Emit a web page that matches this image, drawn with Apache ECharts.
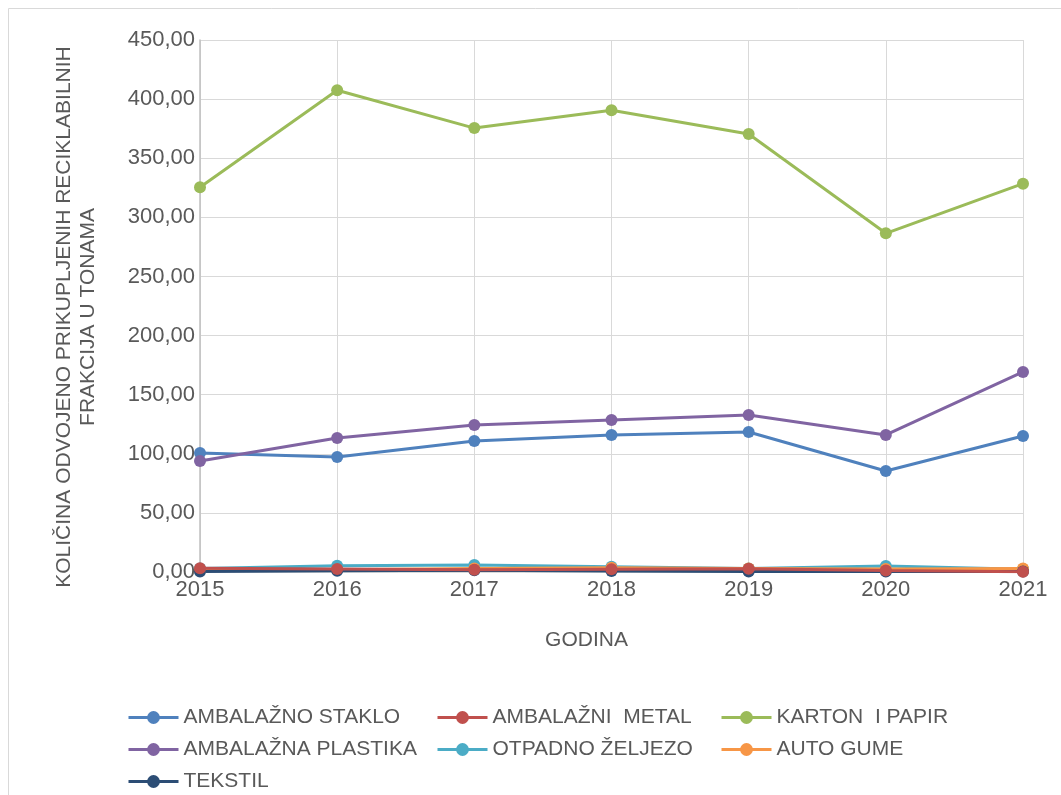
<!DOCTYPE html>
<html>
<head>
<meta charset="utf-8">
<script src="https://cdn.jsdelivr.net/npm/echarts@6/dist/echarts.min.js"></script>
<style>
  html, body { margin: 0; padding: 0; background: #fff; }
  #chart { width: 1061px; height: 795px; }
</style>
</head>
<body>
<div id="chart"></div>
<script>
// godine i kolicine (t)
var years = ['2015', '2016', '2017', '2018', '2019', '2020', '2021'];
var yTicks = [0, 50, 100, 150, 200, 250, 300, 350, 400, 450];

var staklo   = [100.7, 97.3, 110.8, 115.9, 118.4, 85.4, 115.0];
var metal    = [3.2, 2.6, 2.0, 2.4, 2.8, 1.2, 0.3];
var karton   = [325.5, 407.5, 375.5, 390.5, 370.5, 286.5, 328.5];
var plastika = [93.9, 113.3, 124.3, 128.6, 132.8, 115.9, 169.2];
var zeljezo  = [3.0, 5.3, 5.9, 4.5, 3.0, 5.0, 2.3];
var gume     = [1.5, 2.0, 3.0, 3.5, 3.0, 2.5, 3.0];
var tekstil  = [0.5, 1.0, 1.5, 0.8, 0.5, 0.5, 0.5];

var names = ['AMBALAŽNO STAKLO', 'AMBALAŽNI  METAL', 'KARTON  I PAPIR',
  'AMBALAŽNA PLASTIKA', 'OTPADNO ŽELJEZO', 'AUTO GUME', 'TEKSTIL'];
var colors = ['#4F81BD', '#C0504D', '#9BBB59', '#8064A2', '#4BACC6', '#F79646', '#2C4D75'];
var values = [staklo, metal, karton, plastika, zeljezo, gume, tekstil];

var font = '"Liberation Sans", Arial, sans-serif';
var grey = '#595959';

function legendCol(left, items) {
  return {
    orient: 'vertical',
    left: left,
    top: 707,
    padding: 0,
    itemWidth: 50,
    itemHeight: 16,
    itemGap: 11,
    data: items,
    lineStyle: { width: 3 },
    textStyle: { fontFamily: font, fontSize: 21, lineHeight: 20, color: grey }
  };
}

var series = names.map(function (n, i) {
  return {
    name: n,
    type: 'line',
    data: values[i],
    symbol: 'circle',
    symbolSize: 12,
    z: n === names[1] ? 5 : 2,
    lineStyle: { width: 3, color: colors[i] },
    itemStyle: { color: colors[i] }
  };
});

var chart = echarts.init(document.getElementById('chart'));
chart.setOption({
  animation: false,
  color: colors,
  grid: { left: 200, right: 38, top: 40, bottom: 223 },
  graphic: [{
    type: 'rect',
    shape: { x: 8.5, y: 8.5, width: 1200, height: 1000 },
    style: { fill: null, stroke: '#d9d9d9', lineWidth: 1 },
    silent: true
  }],
  legend: [
    legendCol(127, [names[0], names[3], names[6]]),
    legendCol(436, [names[1], names[4]]),
    legendCol(720, [names[2], names[5]])
  ],
  xAxis: {
    type: 'category',
    data: years,
    boundaryGap: false,
    name: 'GODINA',
    nameLocation: 'middle',
    nameGap: 58,
    nameTextStyle: { fontFamily: font, fontSize: 21, color: grey, padding: [0, 50, 0, 0] },
    axisLine: { lineStyle: { color: '#d9d9d9', width: 1 } },
    axisTick: { show: false },
    splitLine: { show: true, lineStyle: { color: '#d9d9d9', width: 1 } },
    axisLabel: { fontFamily: font, fontSize: 22, color: grey, margin: 7 }
  },
  yAxis: {
    type: 'value',
    min: yTicks[0],
    max: yTicks[yTicks.length - 1],
    interval: 50,
    name: 'KOLIČINA ODVOJENO PRIKUPLJENIH RECIKLABILNIH\nFRAKCIJA U TONAMA',
    nameLocation: 'middle',
    nameGap: 100,
    nameTextStyle: { fontFamily: font, fontSize: 21, color: grey, lineHeight: 24, padding: [0, 22, 0, 0] },
    axisLine: { show: true, lineStyle: { color: '#bfbfbf', width: 1.5 } },
    axisTick: { show: false },
    splitLine: { lineStyle: { color: '#d9d9d9', width: 1 } },
    axisLabel: {
      fontFamily: font, fontSize: 22, color: grey, margin: 5,
      formatter: function (v) { return v.toFixed(2).replace('.', ','); }
    }
  },
  series: series
});
</script>
</body>
</html>
